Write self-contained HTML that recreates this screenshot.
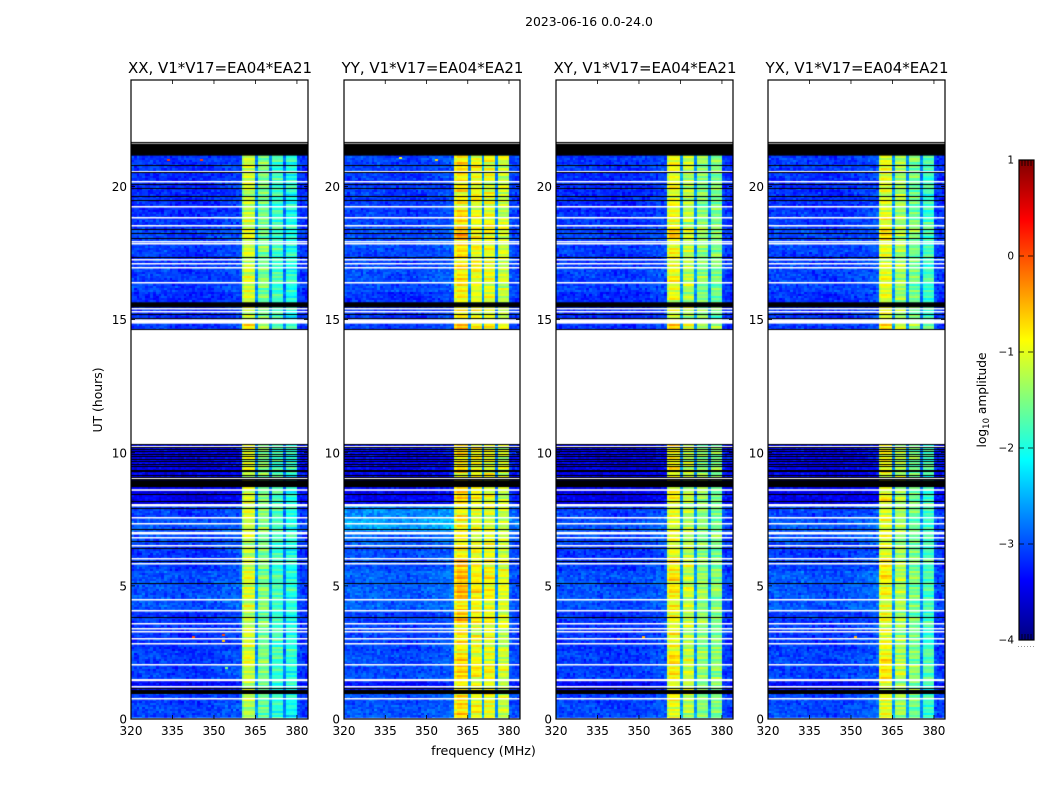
<!DOCTYPE html>
<html lang="en">
<head>
<meta charset="utf-8">
<title>2023-06-16 0.0-24.0</title>
<style>
html,body{margin:0;padding:0;background:#fff;}
#figure{position:relative;width:1050px;height:800px;overflow:hidden;background:#fff;}
canvas{position:absolute;top:0;left:0;}
svg{position:absolute;top:0;left:0;}
text{font-family:"DejaVu Sans","Liberation Sans",sans-serif;fill:#000;}
</style>
</head>
<body>
<div id="figure">
<canvas id="plane" width="1050" height="800"></canvas>
<svg id="overlay" width="1050" height="800" viewBox="0 0 1050 800">
  <text x="589" y="26" font-size="12.4" text-anchor="middle">2023-06-16 0.0-24.0</text>
  <text x="483.5" y="755" font-size="12.7" text-anchor="middle">frequency (MHz)</text>
  <text transform="translate(102,400) rotate(-90)" font-size="12.4" text-anchor="middle">UT (hours)</text>
  <text transform="translate(986,400) rotate(-90)" font-size="12.2" text-anchor="middle">log<tspan font-size="8.5" dy="3">10</tspan><tspan dy="-3"> amplitude</tspan></text>
</svg>
</div>
<script>
/* ---------- axis data ---------- */
const panelTitles = ["XX, V1*V17=EA04*EA21","YY, V1*V17=EA04*EA21","XY, V1*V17=EA04*EA21","YX, V1*V17=EA04*EA21"];
const freqTicks = [320,335,350,365,380];
const hourTicks = [0,5,10,15,20];
const colorTicks = [-4,-3,-2,-1,0,1];

/* ---------- per-channel log10 amplitude (64 channels, 1 MHz each) ---------- */
const lowChannels = [-3.08,-3.1,-3.08,-3.06,-3.08,-3.1,-3.08,-3.06,-3.08,-3.08,-3.1,-3.08,-3.06,-3.08,-3.1,-3.12,-3.13,-3.13,-3.12,-3.13,-3.14,-3.13,-3.14,-3.13,-3.14,-3.13,-3.12,-3.12,-3.1,-3.1,-3.08,-3.08,-3.06,-3.06,-3.04,-3.03,-3.03,-3.01,-3.0,-2.98];
const xxBand = [-1.4,-1.15,-1.15,-1.2,-1.25,-2.7,-1.6,-1.55,-1.55,-1.6,-2.7,-1.85,-1.85,-1.85,-1.9,-2.8,-2.05,-2.0,-2.0,-2.05,-3.05,-3.13,-3.13,-3.18];
const yyBand = [-1.05,-0.85,-0.85,-0.9,-0.9,-2.6,-1.05,-1.0,-1.0,-1.05,-2.6,-1.05,-1.05,-1.05,-1.1,-2.7,-1.25,-1.2,-1.2,-1.25,-3.0,-3.08,-3.08,-3.13];
const xyBand = [-1.25,-1.0,-1.0,-1.05,-1.05,-2.6,-1.3,-1.25,-1.25,-1.3,-2.65,-1.5,-1.5,-1.5,-1.55,-2.7,-1.6,-1.55,-1.55,-1.6,-3.05,-3.13,-3.13,-3.18];
const yxBand = [-1.25,-1.05,-1.05,-1.1,-1.1,-2.6,-1.4,-1.35,-1.35,-1.4,-2.65,-1.6,-1.6,-1.6,-1.65,-2.75,-1.9,-1.85,-1.85,-1.9,-3.05,-3.13,-3.13,-3.18];

/* ---------- half-hour gain estimates, bins 0h..22h ---------- */
const xxGain = [-.1,-.1,-.05,-.05,.15,.05,0,0,.05,.1,.1,.05,0,.05,.1,.1,.1,.15,.1,.15,.1,0,0,0,0,0,0,0,0,.3,0,0,.1,.05,0,.05,.1,0,-.05,0,.1,0,0,0];
const yyGain = [.15,.1,.05,.25,.1,.05,.05,.3,.1,.3,.3,.3,.05,.05,0,0,.1,.15,.1,.15,.1,0,0,0,0,0,0,0,0,.35,0,-.05,.05,.1,.15,.1,.35,.1,.05,.05,.1,.1,.1,0];
const xyGain = [.05,.05,.05,.2,.2,.05,.05,.15,.1,.2,.2,.2,.05,.05,0,0,.1,.15,.1,.15,.1,0,0,0,0,0,0,0,0,.3,0,-.05,.05,.05,.1,.05,.3,.05,0,0,.05,.05,.05,0];
const yxGain = [.05,.05,.05,.25,.2,.05,0,.1,.05,.1,.2,.2,.05,.05,0,0,.1,.15,.1,.15,.1,0,0,0,0,0,0,0,0,.35,0,-.05,.05,.05,.05,.05,.3,.05,0,0,.05,.05,.05,0];
const lowGain = [.05,0,-.3,0,0,-.05,-.05,-.05,.1,.1,.1,0,-.05,.05,.12,0,-.4,-.4,-.4,-.4,-.35,0,0,0,0,0,0,0,0,-.05,-.1,-.1,0,0,-.05,0,0,-.05,-.1,-.1,-.1,-.05,-.05,0];
const yyLowGain = [.1,.05,-.25,.05,.05,0,0,0,.15,.15,.15,.05,.05,.15,.5,.35,-.35,-.35,-.35,-.35,-.3,0,0,0,0,0,0,0,0,-.05,-.1,-.1,.05,.05,0,.05,.05,0,-.05,-.05,-.05,0,0,0];

/* ---------- row-to-row streaks and cell texture read as typed residuals ---------- */
const rowStreak = [.3,-.5,.1,.7,-.2,-.8,.4,0,-.4,.9,.2,-.6,.5,-.1,.8,-.7,.1,-.3,.6,-.9,.2,.4,-.5,.7,0,-.2,.9,-.6,.3,-.8,.5,.1,-.4,.6,-.1,-.7,.8,.2,-.3,.4,-.9,.6,0,-.5,.3,.7,-.2];
const speckle = [.4,-.7,.1,.9,-.3,-.9,.6,.2,-.5,.8,-.1,-.6,.3,1,-.8,.5,-.2,.7,-.4,0,.9,-1,.2,.6,-.7,.4,-.3,.8,-.5,.1,-.9,.7,.3,-.6,.5,-.1,1,-.4,.2,-.8,.6,-.2,.9,-.7,0,.4,-.5,.8,-.3,.1,-.9,.6,.3,-.6,.7,-.1,.5,-.8,.2,.9,-.4];

/* ---------- flagged times, hours ---------- */
const whiteBlocks = [[21.7,24],[10.32,14.63],[14.85,15.01],[8.57,8.63],[6.93,7.03],[1.42,1.5]];
const whiteLines = [0.05,0.79,1.25,2.06,2.85,3.04,3.3,3.41,3.6,4.09,4.51,5.85,6.05,6.53,6.83,7.37,7.58,8.02,8.09,9.04,10.26,15.31,15.44,16.4,16.96,17.11,17.26,17.86,17.97,18.57,18.86,19.25,20.19,20.6,21.65];
const blackBlocks = [[21.16,21.61],[15.46,15.65],[8.71,8.97]];
const blackLines = [0.98,1.02,1.06,1.1,1.16,3.83,5.11,5.94,6.43,6.68,7.13,7.94,8.17,8.46,9.03,9.1,9.18,9.3,9.37,9.5,9.59,9.68,9.77,9.86,9.94,10.05,10.14,10.2,10.31,14.65,15.05,15.22,17.37,18.05,18.27,18.39,19.51,19.63,19.96,20.08,20.53,20.8,21.69];

/* ---------- isolated hot pixels: panel, MHz, hour, log10 amplitude ---------- */
const hotPanel = [0,0,0,0,0,0,1,1,2,2,3,3];
const hotFreq = [353,353,342,354,333,345,340,353,342,351,342,351];
const hotHour = [3.2,2.95,3.1,1.95,21.05,21.05,21.1,21.05,3.05,3.1,3.05,3.1];
const hotValue = [0,-.6,0,-1.5,.1,.1,-.9,-.7,0,-.5,0,-.5];

/* ---------- layout ---------- */
const panelLeft = [131,344,556,768];
const panelWidths = [177,176,177,177];
const plotTop = 80, plotBottom = 719;
const hourMax = 24, freqMin = 320, freqMax = 384;
const cbarX = 1019, cbarW = 15, cbarTop = 160, cbarBottom = 640;
const rowHours = 0.075;

const panelBand = [xxBand,yyBand,xyBand,yxBand];
const panelGain = [xxGain,yyGain,xyGain,yxGain];
const panelLow = [lowGain,yyLowGain,lowGain,lowGain];

function xScale(p,f){return panelLeft[p]+(f-freqMin)/(freqMax-freqMin)*panelWidths[p];}
function yScale(h){return plotBottom-h/hourMax*(plotBottom-plotTop);}
function cbarScale(v){return cbarBottom-(v+4)/5*(cbarBottom-cbarTop);}
function jet(t){
  t=Math.max(0,Math.min(1,t));
  const r=Math.max(0,Math.min(1,t<.375?0:t<.625?(t-.375)/.25:t<.875?1:1-(t-.875)/.25));
  const g=Math.max(0,Math.min(1,t<.125?0:t<.375?(t-.125)/.25:t<.625?1:t<.875?1-(t-.625)/.25:0));
  const b=Math.max(0,Math.min(1,t<.125?.5+t/.25:t<.375?1:t<.625?1-(t-.375)/.25:0));
  return 'rgb('+Math.round(r*255)+','+Math.round(g*255)+','+Math.round(b*255)+')';
}
function colorOf(v){return jet((v+4)/5);}
const gapChannels = [45,50,55];

/* ---------- heatmaps ---------- */
const ctx = document.getElementById('plane').getContext('2d');
const NT = rowStreak.length, NS_ = speckle.length;
for(let p=0;p<4;p++){
  const rows = Math.ceil(21.2/rowHours);
  for(let r=0;r<rows;r++){
    const h0=r*rowHours, h1=(r+1)*rowHours;
    const bin=Math.floor(h0*2);
    const y0=Math.round(yScale(h1)), y1=Math.round(yScale(h0));
    for(let c=0;c<64;c++){
      const inBand=c>=40&&c<60;
      const isGap=gapChannels.indexOf(c)>=0;
      const base=c<40?lowChannels[c]+(p===1||p===3?.03:0):panelBand[p][c-40];
      const sp=speckle[(c*17+r*29+p*11)%NS_]*.6+speckle[(c*c*3+r*r*7+c*r+p*5)%NS_]*.6;
      let v;
      if(isGap){
        v=base+panelLow[p][bin]*.3+sp*.2;
      }else if(inBand){
        const bandIdx=c<45?0:c<50?1:c<55?2:3;
        const fine=rowStreak[(r+bandIdx*13+p*7)%NT];
        const coarse=rowStreak[(Math.floor(r/3)+bandIdx*5)%NT];
        v=base+panelGain[p][bin]*(c<45?1:.55)+fine*.32+coarse*.16+sp*.04;
      }else{
        v=base+(c<40?panelLow[p][bin]:panelLow[p][bin]*.5)+rowStreak[r%NT]*.03+sp*.24;
      }
      const x0=Math.round(xScale(p,freqMin+c)), x1=Math.round(xScale(p,freqMin+c+1));
      ctx.fillStyle=colorOf(v);
      ctx.fillRect(x0,y0,x1-x0,y1-y0);
    }
  }
  for(let i=0;i<hotPanel.length;i++){
    if(hotPanel[i]!==p)continue;
    ctx.fillStyle=colorOf(hotValue[i]);
    ctx.fillRect(Math.round(xScale(p,hotFreq[i])),Math.round(yScale(hotHour[i])),3,2);
  }
  const L=panelLeft[p], W=panelWidths[p];
  ctx.fillStyle='#fff';
  whiteBlocks.forEach(function(b){ctx.fillRect(L,yScale(b[1]),W,yScale(b[0])-yScale(b[1]));});
  whiteLines.forEach(function(h){ctx.fillRect(L,Math.round(yScale(h)),W,1.5);});
  ctx.fillStyle='#000';
  blackBlocks.forEach(function(b){ctx.fillRect(L,yScale(b[1]),W,yScale(b[0])-yScale(b[1]));});
  blackLines.forEach(function(h){ctx.fillRect(L,Math.round(yScale(h)),W,1);});
}

/* ---------- svg helpers ---------- */
const svg = document.getElementById('overlay');
const NS = 'http://www.w3.org/2000/svg';
function make(tag,attrs,parent){
  const el=document.createElementNS(NS,tag);
  Object.keys(attrs).forEach(function(k){el.setAttribute(k,attrs[k]);});
  (parent||svg).appendChild(el);
  return el;
}

/* ---------- panel frames, titles, ticks ---------- */
panelTitles.forEach(function(title,p){
  const L=panelLeft[p], W=panelWidths[p];
  const g=make('g',{});
  
  

  const t=make('text',{x:L+W/2+0.5,y:73,'font-size':14.98,'text-anchor':'middle'},g);
  t.textContent=title;
  
  

  const frame=make('rect',{x:L,y:plotTop,width:W,height:plotBottom-plotTop,fill:'none',stroke:'#000','stroke-width':1.2},g);
  
  

  freqTicks.forEach(function(f){
    const x=xScale(p,f);
    const tb=make('line',{x1:x,x2:x,y1:plotBottom,y2:plotBottom-4,stroke:'#000','stroke-width':.8},g);
    
    
    const tt=make('line',{x1:x,x2:x,y1:plotTop,y2:plotTop+4,stroke:'#000','stroke-width':.8},g);
    
    
    const lb=make('text',{x:x,y:735,'font-size':12,'text-anchor':'middle'},g);
    lb.textContent=String(f);
    
    
  });
  hourTicks.forEach(function(h){
    const y=yScale(h);
    const tl=make('line',{x1:L,x2:L+4,y1:y,y2:y,stroke:'#000','stroke-width':.8},g);
    
    
    const tr=make('line',{x1:L+W,x2:L+W-4,y1:y,y2:y,stroke:'#000','stroke-width':.8},g);
    
    
    const lb=make('text',{x:L-4,y:y+4.5,'font-size':12,'text-anchor':'end'},g);
    lb.textContent=String(h);
    
    
  });
});

/* ---------- colorbar ---------- */
const defs=make('defs',{});
const grad=make('linearGradient',{id:'jetGradient',x1:0,y1:1,x2:0,y2:0},defs);
[0,.125,.375,.625,.875,1].forEach(function(t){make('stop',{offset:t,'stop-color':jet(t)},grad);});
const cbar=make('g',{});


const cbarBody=make('rect',{x:cbarX,y:cbarTop,width:cbarW,height:cbarBottom-cbarTop,fill:'url(#jetGradient)',stroke:'#000','stroke-width':1.2},cbar);


colorTicks.forEach(function(v){
  const y=cbarScale(v);
  const tk=make('line',{x1:cbarX,x2:cbarX+cbarW,y1:y,y2:y,stroke:'#000','stroke-width':.8,'stroke-dasharray':'5 4'},cbar);
  
  
  const lb=make('text',{x:cbarX-5,y:y+3.5,'font-size':10.5,'text-anchor':'end'},cbar);
  lb.textContent=(v<0?'\u2212':'')+Math.abs(v);
  
  
});
[3,6,9,12].forEach(function(dx){
  const a=make('line',{x1:cbarX+dx,x2:cbarX+dx,y1:cbarTop,y2:cbarTop+6,stroke:'#000','stroke-width':.8},cbar);
  
  
  const b=make('line',{x1:cbarX+dx,x2:cbarX+dx,y1:cbarBottom,y2:cbarBottom-6,stroke:'#000','stroke-width':.8},cbar);
  
  
});
[-1,2,5,8,11,14].forEach(function(dx){
  const d=make('rect',{x:cbarX+dx,y:646,width:1,height:1,fill:'#999'},cbar);
  
  
});
</script>
</body>
</html>
